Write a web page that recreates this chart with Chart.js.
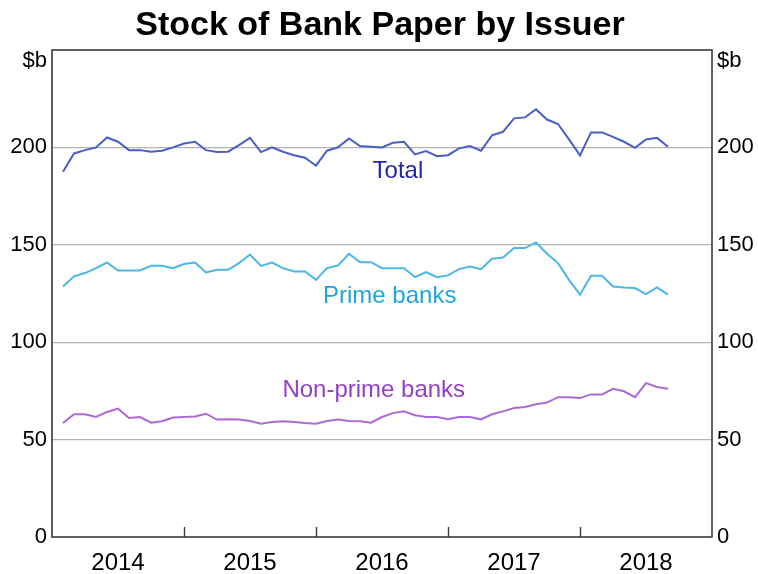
<!DOCTYPE html>
<html>
<head>
<meta charset="utf-8">
<script src="https://cdn.jsdelivr.net/npm/chart.js@4.4.1/dist/chart.umd.min.js"></script>
<style>
  html, body { margin: 0; padding: 0; background: #ffffff; }
  #wrap { width: 758px; height: 574px; position: relative; }
</style>
</head>
<body>
<div id="wrap"><canvas id="c" width="758" height="574"></canvas></div>
<script>
const months = [
  '2014-01','2014-02','2014-03','2014-04','2014-05','2014-06','2014-07','2014-08','2014-09','2014-10','2014-11','2014-12',
  '2015-01','2015-02','2015-03','2015-04','2015-05','2015-06','2015-07','2015-08','2015-09','2015-10','2015-11','2015-12',
  '2016-01','2016-02','2016-03','2016-04','2016-05','2016-06','2016-07','2016-08','2016-09','2016-10','2016-11','2016-12',
  '2017-01','2017-02','2017-03','2017-04','2017-05','2017-06','2017-07','2017-08','2017-09','2017-10','2017-11','2017-12',
  '2018-01','2018-02','2018-03','2018-04','2018-05','2018-06','2018-07','2018-08'
];
const total = [
  187.5, 196.9, 198.6, 200.0, 205.1, 202.9, 198.6, 198.6, 197.8, 198.3, 200.0, 202.0,
  202.9, 198.6, 197.6, 197.8, 201.2, 204.9, 197.6, 200.0, 197.8, 196.0, 194.7, 190.6,
  198.3, 200.0, 204.6, 200.7, 200.3, 200.0, 202.4, 202.9, 196.4, 198.1, 195.5, 196.0,
  199.5, 200.7, 198.3, 206.2, 208.0, 214.9, 215.4, 219.6, 214.3, 212.0, 204.1, 195.9,
  207.7, 207.7, 205.4, 202.9, 199.8, 204.1, 204.9, 200.3
];
const prime = [
  128.6, 133.8, 135.5, 138.0, 140.9, 136.8, 136.8, 136.8, 139.2, 139.2, 138.0, 140.1,
  140.9, 135.8, 137.2, 137.2, 140.6, 145.0, 139.2, 140.9, 138.0, 136.3, 136.3, 132.0,
  138.0, 139.4, 145.4, 141.1, 141.1, 138.0, 138.0, 138.0, 133.4, 136.0, 133.4, 134.3,
  137.5, 138.9, 137.5, 142.8, 143.5, 148.3, 148.3, 151.2, 145.4, 140.6, 132.0, 124.4,
  134.1, 134.1, 128.6, 128.1, 127.8, 124.7, 128.1, 124.4
];
const nonPrime = [
  58.5, 63.0, 63.0, 61.6, 64.2, 65.9, 61.1, 61.6, 58.7, 59.4, 61.3, 61.6,
  61.9, 63.3, 60.3, 60.4, 60.3, 59.5, 58.2, 59.0, 59.4, 59.0, 58.5, 58.2,
  59.5, 60.3, 59.5, 59.4, 58.7, 61.6, 63.6, 64.5, 62.5, 61.6, 61.6, 60.4,
  61.6, 61.6, 60.4, 63.0, 64.5, 66.2, 66.7, 68.1, 69.0, 71.8, 71.8, 71.3,
  73.2, 73.2, 76.1, 74.8, 71.8, 79.0, 77.0, 76.1
];
const yearLabels = ['2014', '2015', '2016', '2017', '2018'];
const yTicks = [0, 50, 100, 150, 200];
const seriesNames = ['Total', 'Prime banks', 'Non-prime banks'];

const FONT = "'Liberation Sans', Arial, sans-serif";
const MONTHS_PER_YEAR = 12;
const xMax = yearLabels.length * MONTHS_PER_YEAR;

function toPoints(arr) { return arr.map((v, i) => ({ x: i + 1, y: v })); }

const colors = {
  total: '#4a5ec6', totalText: '#2626a8',
  prime: '#4cb6e8', primeText: '#23a3de',
  non: '#ad6ad6', nonText: '#9440c4'
};

// label anchors expressed in data units (month index, $b)
const labelAnchors = [
  { text: seriesNames[0], x: 31.45, y: 184.1, color: colors.totalText },
  { text: seriesNames[1], x: 30.7, y: 120.1, color: colors.primeText },
  { text: seriesNames[2], x: 29.25, y: 71.8, color: colors.nonText }
];

const decor = {
  id: 'decor',
  afterDatasetsDraw(chart) {
    const ctx = chart.ctx, a = chart.chartArea;
    const xs = chart.scales.x, ys = chart.scales.y;
    ctx.save();
    // frame
    ctx.strokeStyle = '#3a3a3a';
    ctx.lineWidth = 1.6;
    ctx.strokeRect(a.left, a.top, a.right - a.left, a.bottom - a.top);
    // inward year ticks
    ctx.lineWidth = 1.4;
    for (let k = 1; k < yearLabels.length; k++) {
      const px = Math.round(xs.getPixelForValue(k * MONTHS_PER_YEAR)) + 0.5;
      ctx.beginPath();
      ctx.moveTo(px, a.bottom);
      ctx.lineTo(px, a.bottom - 10);
      ctx.stroke();
    }
    // series labels
    ctx.font = '24px ' + FONT;
    ctx.textAlign = 'center';
    ctx.textBaseline = 'alphabetic';
    labelAnchors.forEach(l => {
      ctx.fillStyle = l.color;
      ctx.fillText(l.text, xs.getPixelForValue(l.x), ys.getPixelForValue(l.y));
    });
    // units
    ctx.fillStyle = '#000';
    ctx.font = '22px ' + FONT;
    ctx.textBaseline = 'middle';
    ctx.textAlign = 'right';
    ctx.fillText('$b', a.left - 5, a.top + 11);
    ctx.textAlign = 'left';
    ctx.fillText('$b', a.right + 5, a.top + 11);
    // title
    ctx.font = 'bold 34px ' + FONT;
    ctx.textAlign = 'center';
    ctx.textBaseline = 'middle';
    ctx.fillText('Stock of Bank Paper by Issuer', 380, 26);
    ctx.restore();
  }
};

new Chart(document.getElementById('c'), {
  type: 'line',
  data: {
    datasets: [
      { label: seriesNames[0], data: toPoints(total), borderColor: colors.total, borderWidth: 2, pointRadius: 0, tension: 0, yAxisID: 'y' },
      { label: seriesNames[1], data: toPoints(prime), borderColor: colors.prime, borderWidth: 2, pointRadius: 0, tension: 0, yAxisID: 'y' },
      { label: seriesNames[2], data: toPoints(nonPrime), borderColor: colors.non, borderWidth: 2, pointRadius: 0, tension: 0, yAxisID: 'y' }
    ]
  },
  options: {
    responsive: false,
    animation: false,
    devicePixelRatio: 1,
    layout: { padding: { top: 50, left: 0, right: 0, bottom: 0 } },
    plugins: { legend: { display: false }, tooltip: { enabled: false }, title: { display: false } },
    scales: {
      x: {
        type: 'linear', min: 0, max: xMax,
        afterBuildTicks(s) { s.ticks = yearLabels.map((_, i) => ({ value: i * MONTHS_PER_YEAR + MONTHS_PER_YEAR / 2 })); },
        afterFit(s) { s.height = 37; },
        grid: { display: false, drawTicks: false },
        border: { display: false },
        ticks: {
          autoSkip: false, maxRotation: 0, padding: 12, color: '#000',
          font: { family: FONT, size: 24 },
          callback: (v) => yearLabels[Math.round((v - MONTHS_PER_YEAR / 2) / MONTHS_PER_YEAR)]
        }
      },
      y: {
        position: 'left', min: 0, max: 250,
        afterBuildTicks(s) { s.ticks = [0, 50, 100, 150, 200, 250].map(v => ({ value: v })); },
        afterFit(s) { s.width = 52; },
        grid: {
          drawTicks: false,
          color: (c) => (c.tick && c.tick.value > 0 && c.tick.value < 250) ? '#b3b3b3' : 'rgba(0,0,0,0)',
          lineWidth: 1.2
        },
        border: { display: false },
        ticks: {
          padding: 5, color: '#000', font: { family: FONT, size: 22 },
          callback: (v) => yTicks.includes(v) ? String(v) : ''
        }
      },
      y2: {
        position: 'right', min: 0, max: 250,
        afterBuildTicks(s) { s.ticks = [0, 50, 100, 150, 200, 250].map(v => ({ value: v })); },
        afterFit(s) { s.width = 46; },
        grid: { display: false, drawTicks: false },
        border: { display: false },
        ticks: {
          padding: 5, color: '#000', font: { family: FONT, size: 22 },
          callback: (v) => yTicks.includes(v) ? String(v) : ''
        }
      }
    }
  },
  plugins: [decor]
});
</script>
</body>
</html>
